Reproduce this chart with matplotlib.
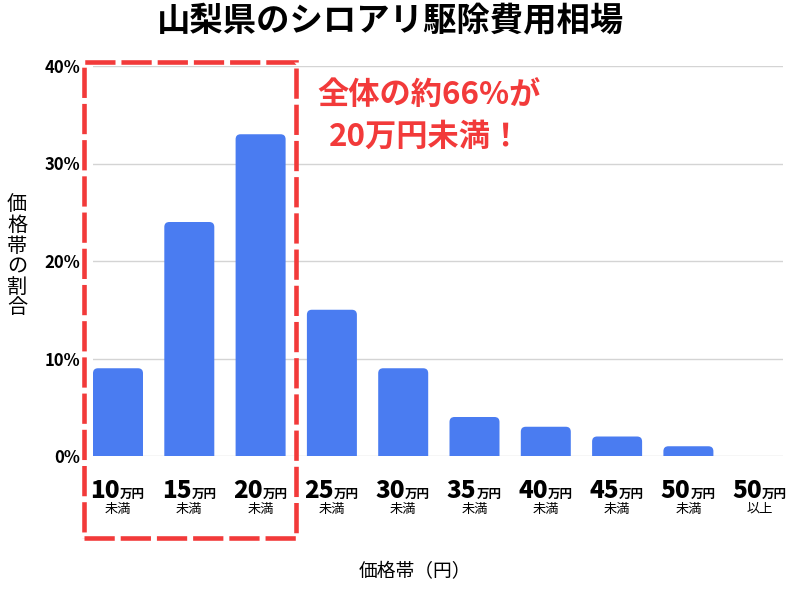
import matplotlib
matplotlib.use('Agg')
import matplotlib.pyplot as plt
from matplotlib.patches import FancyBboxPatch, Rectangle
from matplotlib import transforms

plt.rcParams['font.family'] = ['Noto Sans CJK JP', 'DejaVu Sans']

# data
price_nums = ['10', '15', '20', '25', '30', '35', '40', '45', '50', '50']
price_tails = ['未満'] * 9 + ['以上']
shares = [9, 24, 33, 15, 9, 4, 3, 2, 1, 0]     # %
y_ticks = [0, 10, 20, 30, 40]

BLUE = '#4A7CF1'
RED = '#F23A3A'
W, H = 800, 600

fig = plt.figure(figsize=(8, 6), dpi=100)
# axes placed in pixel terms: left 93, right 783, bottom 456, top 66
ax = fig.add_axes([93 / W, (H - 456) / H, (783 - 93) / W, (456 - 66) / H])

step = 71.3                      # pixels per category
ax.set_xlim(-25 / step, (783 - 118) / step)
ax.set_ylim(0, 40)

bar_w = 50 / step
r = 5 / step                     # corner radius, x units
aspect = (5 / 9.75) / r          # so the radius is round in pixels
for i, v in enumerate(shares):
    if v <= 0:
        continue
    p = FancyBboxPatch((i - bar_w / 2, -1), bar_w, v + 1,
                       boxstyle=f'round,pad=0,rounding_size={r}',
                       mutation_aspect=aspect, fc=BLUE, ec='none', zorder=3)
    ax.add_patch(p)

ax.set_yticks(y_ticks)
ax.set_yticklabels([f'{t}%' for t in y_ticks], fontsize=12, fontweight='bold')
ax.tick_params(axis='y', length=0, pad=9)
ax.set_xticks([])
ax.grid(axis='y', color='#d4d4d4', lw=1, zorder=0)
for s in ax.spines.values():
    s.set_visible(False)

# category labels: big digits + small 万円, second line 未満 / 以上
blend = transforms.blended_transform_factory(ax.transData, fig.transFigure)
for i, (num, tail) in enumerate(zip(price_nums, price_tails)):
    t0 = transforms.offset_copy(blend, fig=fig, x=2, y=0, units='dots')
    ax.text(i, (H - 498) / H, num, transform=t0, ha='right', va='baseline',
            fontsize=17.5, fontweight='black', clip_on=False)
    ax.text(i, (H - 498) / H, '万円', transform=t0, ha='left', va='baseline',
            fontsize=9, fontweight='bold', clip_on=False)
    ax.text(i, (H - 509) / H, tail, transform=blend, ha='center', va='center',
            fontsize=9.5, clip_on=False)

# title and axis labels
fig.text(390 / W, (H - 22) / H, '山梨県のシロアリ駆除費用相場', ha='center', va='center',
         fontsize=24, fontweight='bold')
fig.text(415 / W, (H - 572) / H, '価格帯（円）', ha='center', va='center', fontsize=13.5)
for k, ch in enumerate('価格帯の割合'):
    fig.text(17 / W, (H - (205 + k * 20.5)) / H, ch, ha='center', va='center', fontsize=14.5)

# highlighted range and note
box = Rectangle((83.5 / W, (H - 538) / H), (296 - 83.5) / W, (538 - 62) / H,
                transform=fig.transFigure, fill=False, ec=RED, lw=3.3,
                ls=(0, (6.6, 1.3)), zorder=10)
fig.add_artist(box)
fig.text(429 / W, (H - 95) / H, '全体の約66%が', ha='center', va='center',
         fontsize=22.5, fontweight='bold', color=RED)
fig.text(425 / W, (H - 137) / H, '20万円未満！', ha='center', va='center',
         fontsize=22.5, fontweight='bold', color=RED)

fig.savefig('out.png', dpi=100)
